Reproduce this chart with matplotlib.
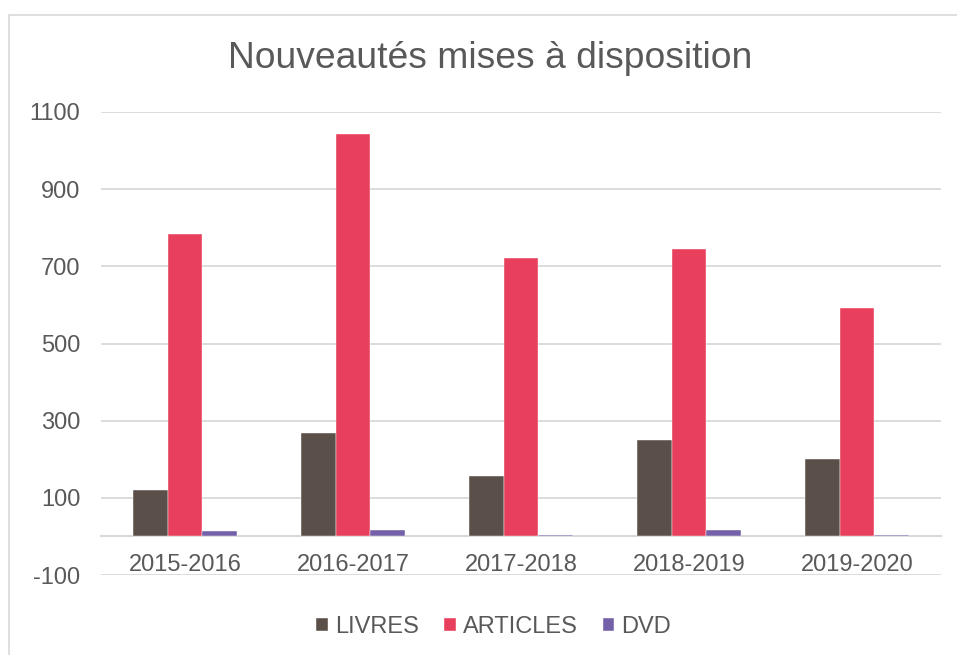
import matplotlib
matplotlib.use("Agg")
import matplotlib.pyplot as plt
import matplotlib.patches as mpatches
import numpy as np

categories = ["2015-2016", "2016-2017", "2017-2018", "2018-2019", "2019-2020"]
livres = [121, 269, 157, 251, 201]
articles = [783, 1043, 721, 744, 593]
dvd = [14, 17, 4, 17, 4]
series_names = ["LIVRES", "ARTICLES", "DVD"]
colors = ["#5b4f4a", "#e8405c", "#7460a8"]

plt.rcParams['font.family'] = ['Liberation Sans', 'DejaVu Sans']
plt.rcParams['axes.unicode_minus'] = False
text_color = "#595959"
grid_color = "#d9d9d9"

fig = plt.figure(figsize=(9.57, 6.55), dpi=100)
# chart frame
fig.patches.append(mpatches.Rectangle((9/957, -0.05), 1.2, 1 - 15/655 + 0.05,
                                      transform=fig.transFigure, fill=False,
                                      edgecolor="#d9d9d9", linewidth=1.2))

ax = fig.add_axes([101/957, 1 - 575/655, (941 - 101)/957, (575 - 112)/655])

x = np.arange(len(categories))
w = 0.207
for i, (vals, name, c) in enumerate(zip([livres, articles, dvd], series_names, colors)):
    ax.bar(x + (i - 1) * w, vals, width=w, color=c, label=name, zorder=5,
           edgecolor="white", linewidth=0.3)

ax.set_xlim(-0.5, len(categories) - 0.5)
ax.set_ylim(-100, 1100)
ax.set_yticks(np.arange(-100, 1101, 200))
ax.yaxis.grid(True, color=grid_color, linewidth=1.3, zorder=0)
ax.set_axisbelow(True)

for s in ["top", "right", "left"]:
    ax.spines[s].set_visible(False)
ax.spines["bottom"].set_position(("data", 0))
ax.spines["bottom"].set_color(grid_color)
ax.spines["bottom"].set_linewidth(1.5)
ax.spines["bottom"].set_zorder(4)

ax.set_xticks(x)
ax.set_xticklabels(categories)
ax.tick_params(axis="x", length=0, pad=13, labelsize=17, labelcolor=text_color)
ax.tick_params(axis="y", length=0, pad=15, labelsize=17, labelcolor=text_color)

fig.text(0.512, 1 - 59/655, "Nouveautés mises à disposition", ha="center", va="center",
         fontsize=26.8, color=text_color)

leg = fig.legend(loc="center", bbox_to_anchor=(0.516, 1 - 627/655), ncol=3,
                 frameon=False, fontsize=17, handlelength=0.5, handleheight=0.5,
                 handletextpad=0.3, columnspacing=1.05, labelcolor=text_color)

fig.savefig("out.png", dpi=100)
